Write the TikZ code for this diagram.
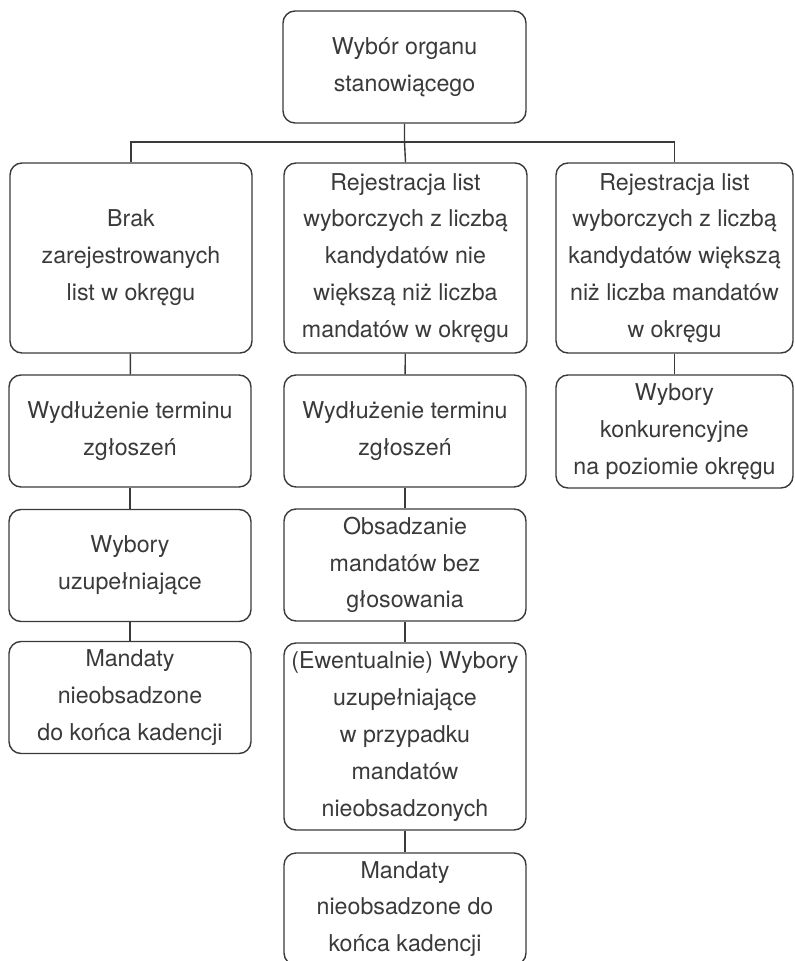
\documentclass[tikz,border=0pt]{standalone}
\usepackage{fontspec}
\setmainfont{TeX Gyre Heros}
\usepackage{xcolor}
\usetikzlibrary{positioning}

\definecolor{inkgray}{HTML}{3A3A3A}

\begin{document}
\begin{tikzpicture}[x=0.5pt, y=-0.5pt, line width=0.7pt, draw=inkgray,
        box/.style={draw=inkgray, rounded corners=6pt, align=center, inner sep=0pt,
            text=inkgray, font=\fontsize{11.6}{18.4}\selectfont}]

        \useasboundingbox (0,0) rectangle (795,961);
        \clip (0,0) rectangle (795,961);

        % Nodes
        \node[box, minimum width=121.5pt, minimum height=56pt] (top) at (404.5,67)
            {Wybór organu\\stanowiącego};

        \node[box, minimum width=121pt, minimum height=95pt] (brak) at (131,258)
            {Brak\\zarejestrowanych\\list w okręgu};
        \node[box, minimum width=121.5pt, minimum height=95pt] (mniej) at (405.5,258)
            {Rejestracja list\\wyborczych z liczbą\\kandydatów nie\\większą niż liczba\\mandatów w okręgu};
        \node[box, minimum width=118.5pt, minimum height=95pt] (wiecej) at (674.5,258)
            {Rejestracja list\\wyborczych z liczbą\\kandydatów większą\\niż liczba mandatów\\w okręgu};

        % Left branch
        \node[box, minimum width=121pt, minimum height=56pt] (termL) at (130,431)
            {Wydłużenie terminu\\zgłoszeń};
        \node[box, minimum width=121pt, minimum height=56pt] (uzupL) at (130,565.5)
            {Wybory\\uzupełniające};
        \node[box, minimum width=121pt, minimum height=56pt] (koniecL) at (130,697.5)
            {Mandaty\\nieobsadzone\\do końca kadencji};

        % Middle branch
        \node[box, minimum width=121pt, minimum height=56pt] (termM) at (405,431)
            {Wydłużenie terminu\\zgłoszeń};
        \node[box, minimum width=121pt, minimum height=56pt] (obsad) at (405,565)
            {Obsadzanie\\mandatów bez\\głosowania};
        \node[box, minimum width=121pt, minimum height=93.5pt] (uzupM) at (405,736.5)
            {(Ewentualnie) Wybory\\uzupełniające\\w przypadku\\mandatów\\nieobsadzonych};
        \node[box, minimum width=121pt, minimum height=56pt] (koniecM) at (405,909)
            {Mandaty\\nieobsadzone do\\końca kadencji};

        % Right branch
        \node[box, minimum width=118.5pt, minimum height=56.5pt] (konk) at (674.5,431.5)
            {Wybory\\konkurencyjne\\na poziomie okręgu};

        % Lines
        \coordinate (bus) at (404.5,142);
        \draw (top.south) -- (bus) -- (mniej.north);
        \draw (brak.north) |- (bus) -| (wiecej.north);

        \draw (brak) -- (termL);
        \draw (termL) -- (uzupL);
        \draw (uzupL) -- (koniecL);

        \draw (mniej) -- (termM);
        \draw (termM) -- (obsad);
        \draw (obsad) -- (uzupM);
        \draw (uzupM) -- (koniecM);

        \draw (wiecej) -- (konk);

    \end{tikzpicture}
\end{document}
